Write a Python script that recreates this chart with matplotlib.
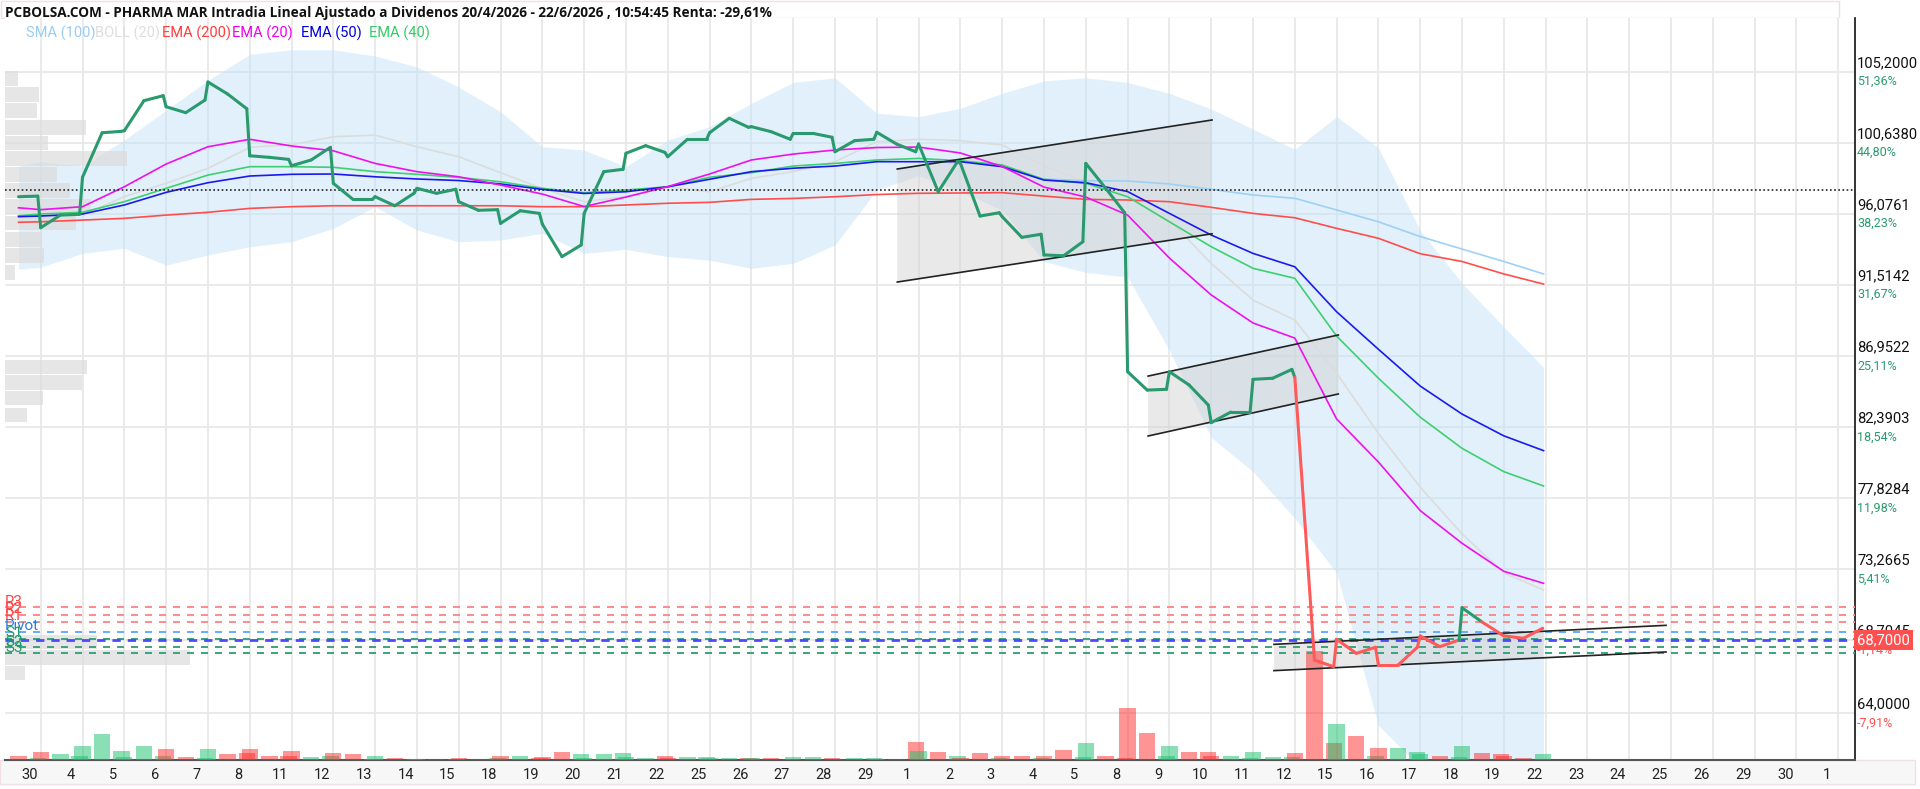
import numpy as np
import matplotlib
matplotlib.use("Agg")
import matplotlib.pyplot as plt
from matplotlib.collections import LineCollection
from matplotlib.patches import Rectangle, Polygon
from matplotlib import transforms as mtrans
from matplotlib import font_manager as fm

# ------------------------------------------------------------------ data
day_labels = ["30", "4", "5", "6", "7", "8", "11", "12", "13", "14", "15", "18", "19", "20", "21", "22",
              "25", "26", "27", "28", "29", "1", "2", "3", "4", "5", "8", "9", "10", "11", "12", "15",
              "16", "17", "18", "19", "22", "23", "24", "25", "26", "29", "30", "1"]

# intraday price: open / mid / close per trading day (30/4 .. 22/6)
price_open = [None, 95.17, 98.41, 101.40, 102.94, 104.53, 99.79, 99.15, 98.02, 97.16, 97.70, 96.84,
              95.45, 95.40, 96.09, 99.95, 99.73, 101.27, 101.66, 101.23, 100.05, 101.30, 100.55, 99.31,
              95.88, 93.42, 99.30, 85.92, 85.92, 82.65, 85.43, 85.56, 68.73, 67.08, 68.95, 70.76, 68.95]
price_mid = [97.16, 95.98, 101.27, 103.33, 102.56, 103.76, 99.69, 99.52, 96.99, 96.58, 97.38, 96.29,
             96.26, 93.31, 98.77, 100.44, 100.85, 102.20, 101.34, 101.23, 100.76, 100.55, 97.48, 95.92,
             94.55, 93.37, 97.72, 84.74, 85.07, 83.33, 85.50, 67.40, 67.83, 67.08, 68.26, 69.86, 68.80]
price_close = [97.20, 96.03, 101.36, 103.65, 103.37, 102.81, 99.56, 100.33, 96.99, 97.38, 97.64, 96.33,
               96.09, 94.06, 98.92, 100.01, 100.85, 101.62, 100.85, 100.98, 100.85, 100.05, 99.41, 96.13,
               94.75, 94.27, 96.13, 84.79, 83.78, 83.33, 86.07, 66.97, 68.22, 68.22, 68.69, 69.07, 69.44]

vol_open = [None, 7.7, 14, 3, 10.7, 10.7, 10.7, 9, 6.7, 4, 1, 1.7, 4, 2.7, 2, 3, 2, 2, 1.7, 2.7, 1.5,
            1.5, 9, 2, 4, 4, 16.7, 51.7, 14, 4, 8.3, 7.3, 35.7, 11.7, 6, 14, 4]
vol_mid = [4, 5.7, 25.7, 14, 2.7, 5.7, 4, 2.7, 5.7, 1.7, 0.7, 0.7, 4, 7.7, 5.7, 1.7, 2.7, 1.7, 1.7,
           2.7, 1.7, 0.7, 7.7, 6.7, 4, 10, 4, 26.7, 8.3, 4, 2.7, 109, 24, 11.7, 4, 7.3, 1.7]
vol_close = [2, 4, 9, 4, 2, 6.7, 4, 4, 1, 1, 1, 1.7, 2, 5.7, 6.7, 4, 2.7, 1.7, 1.5, 1.7, 1.7, 17.7,
             4, 2, 2, 2.7, 2, 4, 8.3, 2, 2.7, 16.7, 4, 8.3, 2.7, 6, 6]

# indicators sampled at start, each day start (1..36) and end
ema20 = [96.45, 96.33, 96.52, 97.80, 99.26, 100.37, 100.85, 100.42, 100.11, 99.30, 98.77, 98.44, 97.91,
         97.33, 96.53, 97.14, 97.81, 98.62, 99.52, 99.90, 100.16, 100.32, 100.35, 99.97, 99.10, 97.78,
         97.14, 95.98, 93.22, 90.85, 89.05, 88.08, 82.88, 80.12, 77.0, 74.9, 73.1, 72.33]
ema50 = [95.88, 95.92, 96.05, 96.63, 97.44, 98.06, 98.49, 98.60, 98.62, 98.44, 98.30, 98.20, 97.98,
         97.63, 97.37, 97.48, 97.80, 98.28, 98.77, 98.99, 99.13, 99.41, 99.41, 99.41, 99.09, 98.23,
         98.06, 97.49, 96.09, 94.70, 93.52, 92.66, 89.77, 87.36, 85.0, 83.2, 81.8, 80.85]
ema40 = [95.94, 96.05, 96.16, 96.84, 97.70, 98.55, 99.09, 99.09, 99.05, 98.77, 98.60, 98.40, 98.12,
         97.70, 97.42, 97.59, 97.80, 98.41, 98.70, 99.13, 99.30, 99.52, 99.62, 99.47, 99.20, 98.27,
         98.02, 97.16, 95.55, 93.95, 92.56, 91.92, 88.21, 85.50, 83.0, 81.0, 79.5, 78.58]
ema200 = [95.52, 95.55, 95.66, 95.77, 95.98, 96.16, 96.41, 96.52, 96.58, 96.58, 96.58, 96.58, 96.58,
          96.52, 96.52, 96.63, 96.74, 96.80, 96.99, 97.05, 97.16, 97.30, 97.38, 97.40, 97.42, 97.20,
          96.99, 96.95, 96.84, 96.48, 96.09, 95.81, 95.13, 94.49, 93.5, 93.0, 92.2, 91.55]
boll_mid = [95.88, 95.95, 95.98, 97.16, 98.02, 98.98, 100.33, 100.50, 101.01, 101.12, 100.37, 99.73,
            98.70, 97.70, 96.84, 97.16, 97.80, 97.48, 98.34, 98.77, 99.41, 100.69, 100.85, 100.76,
            100.48, 99.13, 98.12, 97.20, 95.66, 92.88, 90.52, 89.24, 85.82, 81.96, 78.5, 75.5, 73.0, 71.9]
boll_up = [99.13, 99.41, 99.13, 100.80, 102.71, 104.64, 106.3, 106.6, 106.6, 106.2, 105.5, 104.2,
           102.62, 100.37, 100.16, 99.09, 100.80, 101.66, 103.16, 104.5, 104.8, 102.52, 102.30, 102.84,
           103.8, 104.6, 104.8, 104.5, 103.8, 102.8, 101.5, 100.2, 102.3, 100.3, 95.0, 91.6, 88.8, 86.2]
boll_low = [92.50, 92.63, 93.52, 93.85, 92.77, 93.42, 93.95, 94.27, 95.13, 96.52, 95.02, 94.27, 94.38,
            94.81, 93.52, 93.78, 93.31, 93.09, 92.56, 92.88, 94.06, 97.6, 98.5, 97.5, 96.3, 93.0, 92.3,
            92.0, 87.3, 81.7, 79.5, 76.5, 73.0, 63.2, 60.5, 59.5, 59.0, 59.0]
sma100 = [np.nan] * 25 + [98.30, 98.19, 98.17, 97.98, 97.64, 97.27, 97.06, 96.31, 95.55, 94.6, 93.8,
                          93.0, 92.20]

# volume profile (price level, volume)
prof_price = [104.75, 103.72, 102.70, 101.60, 100.61, 99.61, 98.59, 97.56, 96.53, 95.47, 94.41, 93.38,
              92.29, 86.22, 85.23, 84.23, 83.14, 68.56, 67.56, 66.57]
prof_vol = [13, 34, 32, 81, 43, 122, 52, 65, 86, 71, 37, 39, 10, 82, 77, 38, 22, 92, 185, 20]

# trend channels: start day, end day, upper start/end, lower start/end, fill end
chan_u0 = [21.49, 27.49, 30.50]
chan_u1 = [29.02, 32.04, 39.88]
chan_up0 = [98.94, 85.64, 68.41]
chan_up1 = [102.09, 88.28, 69.63]
chan_lo0 = [91.68, 81.79, 66.72]
chan_lo1 = [94.78, 84.49, 67.92]
chan_fill_end = [29.02, 32.04, 36.95]

pivot_names = ["R3", "R2", "R1", "Pivot", "S1", "S2", "S3"]
pivot_vals = [70.79, 70.29, 69.84, 69.20, 68.77, 68.22, 67.83]

ytick_vals = [105.2, 100.638, 96.0761, 91.5142, 86.9522, 82.3903, 77.8284, 73.2665, 68.7045, 64.0]
ytick_txt = ["105,2000", "100,6380", "96,0761", "91,5142", "86,9522", "82,3903", "77,8284", "73,2665",
             "68,7045", "64,0000"]
ypct_txt = ["51,36%", "44,80%", "38,23%", "31,67%", "25,11%", "18,54%", "11,98%", "5,41%", "-1,14%",
            "-7,91%"]

BASE = 69.50        # base of percentage scale
REF = 97.62         # start reference (dotted)
LAST = 68.70
LAST_TXT = "68,7000"

title = ("PCBOLSA.COM - PHARMA MAR Intradia Lineal Ajustado a Dividenos 20/4/2026 - 22/6/2026 , "
         "10:54:45 Renta: -29,61%")
legend_items = ["SMA (100)", "BOLL (20)", "EMA (200)", "EMA (20)", "EMA (50)", "EMA (40)"]

# ------------------------------------------------------------------ style
C_GREEN = "#2a9a6e"
C_RED = "#ff5a5a"
C_SMA = "#9fd0f5"
C_BOLL = "#dcdcdc"
C_E200 = "#ff4d4d"
C_E20 = "#ee11ee"
C_E50 = "#1a1aee"
C_E40 = "#3ecf70"
legend_colors = ["#99ccf5", "#dddddd", "#ff3b3b", "#ee00ee", "#0000dd", "#33cc66"]

avail = {f.name for f in fm.fontManager.ttflist}
F_MAIN = "Roboto" if "Roboto" in avail else "DejaVu Sans"
F_NARROW = "Liberation Sans Narrow" if "Liberation Sans Narrow" in avail else F_MAIN
F_TITLE = "Open Sans" if "Open Sans" in avail else F_MAIN

W, H = 1920, 789
PX_L, PX_R, PX_T, PX_B = 5, 1855, 18, 760
U_LEFT, U_RIGHT = 0.146, 44.40
P_BOT, P_TOP = 60.98, 108.64

fig = plt.figure(figsize=(W / 100, H / 100), dpi=100)
fig.patch.set_facecolor("white")

# label band below plot and title band
fig.add_artist(Rectangle((0, 1 - 784 / H), 1915 / W, (784 - PX_B) / H, transform=fig.transFigure,
                         facecolor="#f7f7f7", edgecolor="#f0e0e4", lw=1.0, zorder=-10))
fig.add_artist(Rectangle((1 / W, 1 - PX_T / H), 1838 / W, (PX_T - 1) / H, transform=fig.transFigure,
                         facecolor="#ffffff", edgecolor="#f0e0e4", lw=1.0, zorder=-10))

ax = fig.add_axes([PX_L / W, 1 - PX_B / H, (PX_R - PX_L) / W, (PX_B - PX_T) / H])
ax.set_zorder(1)
ax.set_xlim(U_LEFT, U_RIGHT)
ax.set_ylim(P_BOT, P_TOP)
ax.set_facecolor("white")

# grid
ax.set_yticks(ytick_vals)
ax.set_yticklabels([])
ax.tick_params(axis="y", length=0)
ax.set_xticks([d + 0.73 for d in range(len(day_labels))])
ax.set_xticklabels(day_labels)
for lab in ax.get_xticklabels():
    lab.set_fontsize(10.5)
    lab.set_fontfamily(F_NARROW)
    lab.set_color("#222")
ax.set_xticks(np.arange(1, 45), minor=True)
ax.tick_params(axis="x", which="both", length=0, pad=6)
ax.grid(axis="y", which="major", color="#e8e8e8", lw=1.3, zorder=0)
ax.grid(axis="x", which="minor", color="#e8e8e8", lw=1.3, zorder=0)
ax.set_axisbelow(True)
for s in ("top", "left"):
    ax.spines[s].set_visible(False)
ax.spines["right"].set_color("#111")
ax.spines["right"].set_linewidth(1.2)
ax.spines["bottom"].set_color("#555")
ax.spines["bottom"].set_linewidth(1.5)

n_days = len(price_mid)
ind_u = np.r_[0.47, np.arange(1, n_days), n_days - 0.05]

# Bollinger band
ax.fill_between(ind_u, boll_low, boll_up, color="#c4e3f7", alpha=0.5, lw=0, zorder=1)

# volume profile
trans_prof = mtrans.blended_transform_factory(ax.transAxes, ax.transData)
pmax = max(prof_vol)
for pp, vv in zip(prof_price, prof_vol):
    ax.add_patch(Rectangle((0, pp - 0.47), vv / pmax * (185 / (PX_R - PX_L)), 0.94, transform=trans_prof,
                           facecolor="#dcdcdc", alpha=0.7, lw=0, zorder=2.5))

# channels
for i in range(len(chan_u0)):
    u0, u1 = chan_u0[i], chan_u1[i]
    su = (chan_up1[i] - chan_up0[i]) / (u1 - u0)
    sl = (chan_lo1[i] - chan_lo0[i]) / (u1 - u0)
    ue = chan_fill_end[i]
    poly = [(u0, chan_up0[i]), (ue, chan_up0[i] + su * (ue - u0)),
            (ue, chan_lo0[i] + sl * (ue - u0)), (u0, chan_lo0[i])]
    ax.add_patch(Polygon(poly, closed=True, facecolor="#d0d0d0", alpha=0.45, lw=0, zorder=2))
    ax.plot([u0, u1], [chan_up0[i], chan_up1[i]], color="#222", lw=1.2, zorder=5)
    ax.plot([u0, u1], [chan_lo0[i], chan_lo1[i]], color="#222", lw=1.2, zorder=5)

# indicator lines
ax.plot(ind_u, boll_mid, color=C_BOLL, lw=1.2, zorder=3)
ax.plot(ind_u, sma100, color=C_SMA, lw=1.2, zorder=3)
ax.plot(ind_u, ema200, color=C_E200, lw=1.2, zorder=3.1)
ax.plot(ind_u, ema40, color=C_E40, lw=1.2, zorder=3.2)
ax.plot(ind_u, ema50, color=C_E50, lw=1.2, zorder=3.3)
ax.plot(ind_u, ema20, color=C_E20, lw=1.2, zorder=3.4)

# slots
slot_u, slot_p, slot_v = [], [], []
for d in range(n_days):
    for frac, parr, varr in ((0.0, price_open, vol_open), (0.47, price_mid, vol_mid),
                             (0.93, price_close, vol_close)):
        if parr[d] is None:
            continue
        slot_u.append(d + frac)
        slot_p.append(parr[d])
        slot_v.append(varr[d])
slot_u = np.array(slot_u)
slot_p = np.array(slot_p)
slot_v = np.array(slot_v, dtype=float)

# volume bars
trans_vol = mtrans.blended_transform_factory(ax.transData, ax.transAxes)
vmax = slot_v.max()
vol_frac = 109 / (PX_B - PX_T)
for i, (uu, vv) in enumerate(zip(slot_u, slot_v)):
    up = i > 0 and slot_p[i] >= slot_p[i - 1]
    col = "#18c06a" if up else "#ff2a2a"
    ax.add_patch(Rectangle((uu - 0.195, 0), 0.39, vv / vmax * vol_frac, transform=trans_vol,
                           facecolor=col, alpha=0.5, lw=0, zorder=2.8))

# pivot lines
pv_cols = ["#ff8a8a"] * 3 + ["#66aaff"] + ["#3aa57c"] * 3
lab_cols = ["#ff4444"] * 3 + ["#2a7de0"] + ["#22996e"] * 3
for nm, vv, c, lc in zip(pivot_names, pivot_vals, pv_cols, lab_cols):
    ax.axhline(vv, color=c, lw=1.4, ls=(0, (3.6, 3.6)), zorder=4)
    ax.annotate(nm, xy=(0, vv), xycoords=("axes fraction", "data"), xytext=(0, 1.2),
                textcoords="offset points", ha="left", va="baseline", fontsize=11, color=lc,
                fontfamily=F_MAIN, zorder=7, annotation_clip=False)
ax.axhline(LAST, color="#4a4aff", lw=2.0, ls=(0, (3.0, 2.5)), zorder=4.5)

# reference dotted line
ax.axhline(REF, color="#222", lw=1.2, ls=(0, (1, 1.5)), zorder=5)

# price line
pts = np.column_stack([slot_u, slot_p])
segs = np.stack([pts[:-1], pts[1:]], axis=1)
cols = [C_GREEN if p >= BASE else C_RED for p in slot_p[1:]]
ax.add_collection(LineCollection(segs, colors=cols, linewidths=2.2, capstyle="round",
                                 joinstyle="round", zorder=6))

# right axis labels
for v, t, pc in zip(ytick_vals, ytick_txt, ypct_txt):
    ax.annotate(t, xy=(1, v), xycoords=("axes fraction", "data"), xytext=(1.5, 6.3),
                textcoords="offset points", ha="left", va="center", fontsize=10.6, color="#111",
                fontfamily=F_MAIN, annotation_clip=False, zorder=8)
    ax.annotate(pc, xy=(1, v), xycoords=("axes fraction", "data"), xytext=(1.5, -7.3),
                textcoords="offset points", ha="left", va="center", fontsize=9.0,
                color=C_GREEN if not pc.startswith("-") else "#ff4d4d",
                fontfamily=F_MAIN, annotation_clip=False, zorder=8)
ax.annotate(LAST_TXT, xy=(1, LAST), xycoords=("axes fraction", "data"), xytext=(1.5, 0),
            textcoords="offset points", ha="left", va="center", fontsize=10.6, color="white",
            fontfamily=F_MAIN, annotation_clip=False, zorder=9,
            bbox=dict(boxstyle="square,pad=0.22", fc="#ff5050", ec="none"))

# title
t = fig.text(5 / W, 1 - 12.5 / H, title, fontsize=10, fontweight="bold", fontfamily=F_TITLE,
             ha="left", va="center", color="#111")
fig.canvas.draw()
bb = t.get_window_extent()
t.set_fontsize(10 * 770 / bb.width)

# legend
leg_x = [26.5, 94.7, 162.4, 231.8, 300.8, 369.4]
for x, s, c in zip(leg_x, legend_items, legend_colors):
    fig.text(x / W, 1 - 33.5 / H, s, fontsize=10.5, fontfamily=F_MAIN, color=c, ha="left",
             va="center")

fig.savefig("out.png", dpi=100, facecolor="white")
